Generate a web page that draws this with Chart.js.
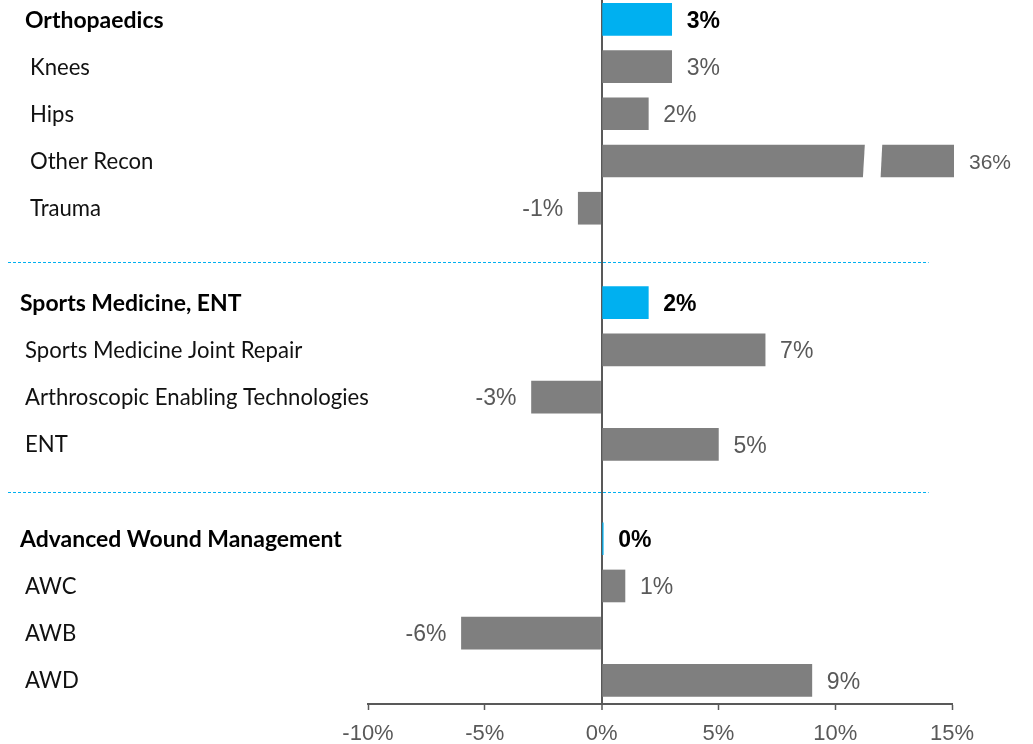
<!DOCTYPE html>
<html><head><meta charset="utf-8">
<script src="https://cdn.jsdelivr.net/npm/chart.js@4"></script>
<style>html,body{margin:0;padding:0;background:#fff}#wrap{width:1033px;height:744px}</style>
</head><body><div id="wrap"><canvas id="c" width="1033" height="744"></canvas></div>
<script>
const categories = ['Orthopaedics','Knees','Hips','Other Recon','Trauma','',
  'Sports Medicine, ENT','Sports Medicine Joint Repair','Arthroscopic Enabling Technologies','ENT','',
  'Advanced Wound Management','AWC','AWB','AWD'];
const growth = [3,3,2,36,-1,null, 2,7,-3,5,null, 0.07,1,-6,9];
const segmentHeaders = ['Orthopaedics','Sports Medicine, ENT','Advanced Wound Management'];
const xTicks = [-10,-5,0,5,10,15];

const GRAY = '#7f7f7f', BLUE = '#00b0f0', TEXTGRAY = '#595959';
const rows = categories.map((c,i)=>({c:c,i:i,v:growth[i]})).filter(r=>r.v!==null);
const isHeader = c => segmentHeaders.indexOf(c) >= 0;

function fitSize(ctx, weight, family, text, target){
  ctx.font = weight + ' 100px ' + family;
  return 100 * target / ctx.measureText(text).width;
}

const overlay = {
  id:'overlay',
  beforeDatasetsDraw(chart){
    const ctx = chart.ctx, x = chart.scales.x, y = chart.scales.y;
    ctx.save();
    ctx.strokeStyle = BLUE; ctx.lineWidth = 1; ctx.setLineDash([3,2]);
    [5.14, 10].forEach(v=>{
      const py = Math.round(y.getPixelForValue(v)) + 0.5;
      ctx.beginPath(); ctx.moveTo(8, py); ctx.lineTo(x.getPixelForValue(14), py); ctx.stroke();
    });
    ctx.restore();
  },
  afterDatasetsDraw(chart){
    const ctx = chart.ctx, area = chart.chartArea, xs = chart.scales.x;
    const meta = chart.getDatasetMeta(0);
    ctx.save();
    meta.data.forEach((bar,k)=>{
      const r = rows[k], h = isHeader(r.c);
      let end = bar.x, clipped = false;
      if (end > area.right + 2) { end = area.right + 2; clipped = true; }
      if (clipped) {
        const c = xs.getPixelForValue(11.6);
        const t = bar.y - bar.height/2 - 1, b = bar.y + bar.height/2 + 1;
        ctx.fillStyle = '#fff';
        ctx.beginPath();
        ctx.moveTo(c-7.7, t); ctx.lineTo(c+9.7, t); ctx.lineTo(c+8, b); ctx.lineTo(c-9.7, b);
        ctx.closePath(); ctx.fill();
      }
      const size = clipped ? 21 : 23;
      ctx.font = (h ? 'bold ' : '') + size + 'px "Liberation Sans", Arial, sans-serif';
      ctx.fillStyle = h ? '#000' : TEXTGRAY;
      ctx.textBaseline = 'alphabetic';
      const txt = Math.round(r.v) + '%';
      const yb = bar.y + size*0.716/2;
      if (r.v >= 0) { ctx.textAlign = 'left'; ctx.fillText(txt, end + 15, yb); }
      else { ctx.textAlign = 'right'; ctx.fillText(txt, end - 15, yb); }
    });
    // category labels
    const ys = chart.scales.y;
    const regSize = fitSize(ctx, '400', 'Lato', 'Arthroscopic Enabling Technologies', 344);
    const boldSize = fitSize(ctx, '700', 'Lato', 'Advanced Wound Management', 322);
    let group = -1;
    categories.forEach((c,i)=>{
      if (!c) return;
      const h = isHeader(c);
      if (h) group++;
      const size = h ? boldSize : regSize;
      ctx.font = (h ? '700 ' : '400 ') + size + 'px Lato';
      ctx.fillStyle = h ? '#000' : '#111';
      ctx.textAlign = 'left'; ctx.textBaseline = 'alphabetic';
      const px = (h ? 20 : 25) + (group === 0 ? 5 : 0);
      ctx.fillText(c, px, ys.getPixelForValue(i) + size*0.72/2);
    });
    ctx.restore();
  }
};

new Chart(document.getElementById('c'), {
  type:'bar',
  data:{ datasets:[{
    data: rows.map(r=>({x:r.v, y:r.i})),
    backgroundColor: rows.map(r=> isHeader(r.c) ? BLUE : GRAY),
    borderWidth:0, barThickness:32,
    clip:{left:false, top:false, bottom:false, right:2}
  }]},
  options:{
    indexAxis:'y', responsive:false, animation:false,
    layout:{padding:{left:368, right:81, top:0, bottom:0}},
    plugins:{legend:{display:false}, tooltip:{enabled:false}},
    scales:{
      x:{ type:'linear', position:'bottom', min:-10, max:15,
        afterBuildTicks: s => { s.ticks = xTicks.map(v=>({value:v})); },
        afterFit: s => { s.height = 40; },
        border:{display:true, color:TEXTGRAY, width:2},
        grid:{ drawOnChartArea:true, drawTicks:true, tickLength:6, tickColor:TEXTGRAY, tickWidth:1.5,
          color: c => (c.tick && c.tick.value === 0) ? TEXTGRAY : 'rgba(0,0,0,0)',
          lineWidth: c => (c.tick && c.tick.value === 0) ? 2 : 1 },
        ticks:{ padding:11, color:TEXTGRAY, font:{family:'"Liberation Sans", Arial, sans-serif', size:22},
          callback: v => v + '%' }
      },
      y:{ type:'linear', display:false, reverse:true, offset:false, min:-0.41, max:14.5 }
    }
  },
  plugins:[overlay]
});
</script></body></html>
